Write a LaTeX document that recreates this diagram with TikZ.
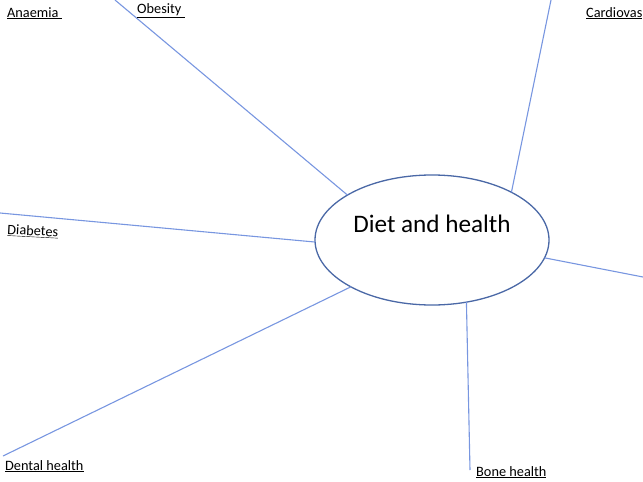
\documentclass[tikz,border=0pt]{standalone}
\usepackage{fontspec}
\setmainfont{Carlito}
\usepackage{tikz}
\usetikzlibrary{shapes}
\definecolor{spoke}{HTML}{7896E0}
\definecolor{rim}{HTML}{4A68A6}
\tikzset{hub/.style={ellipse, draw=rim, line width=1.3pt, minimum width=234pt, minimum height=130pt, inner sep=0pt, outer sep=0pt}}
\tikzset{tag/.style={anchor=base west, inner sep=0pt, font=\fontsize{14.3}{17}\selectfont}}
\tikzset{leg/.style={draw=spoke, line width=1.1pt}}

\begin{document}
\begin{tikzpicture}[x=1pt,y=-1pt]
  \useasboundingbox (0,0) rectangle (643,482);
  \node[hub] (diet) at (432,240) {};
  \node[inner sep=0pt, font=\fontsize{25.2}{30}\selectfont] (title) at (432,224) {Diet and health};
  % free ends of the spokes
  \foreach \nm/\x/\y in {
    ob/115/0,
    ca/551/0,
    di/0/213,
    ri/643/277,
    de/3/456,
    bo/470/470%
  } {
    \coordinate (\nm) at (\x,\y);
  }
  \foreach \nm/\ang in {
    ob/152,
    ca/31,
    di/181,
    ri/-9,
    de/210,
    bo/-61%
  } {
    \draw[leg] (diet.\ang) -- (\nm);
  }
  % labels
  \node[tag] (anaemia) at (7,17) {\underline{Anaemia~}};
  \node[tag] (obesity) at (137,13) {\underline{Obesity~}};
  \node[tag] (cardio) at (586,17) {\underline{Cardiovas}};
  \node[tag, rotate=-3] (diabetes) at (7,234) {\underline{Diabetes}};
  \node[tag] (dental) at (5,470) {\underline{Dental health}};
  \node[tag] (bone) at (476,476) {\underline{Bone health}};
\end{tikzpicture}
\end{document}
